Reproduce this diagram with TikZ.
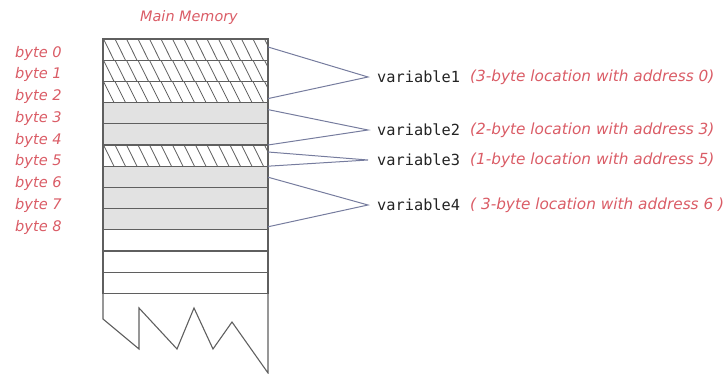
\documentclass[tikz,border=0pt]{standalone}
\usepackage{fontspec}
\setmainfont{DejaVu Sans}
\newfontfamily\codefont{DejaVu Sans Mono}
\usetikzlibrary{calc}
\definecolor{memred}{RGB}{218,92,102}
\definecolor{cellgray}{RGB}{226,226,226}
\definecolor{edgegray}{RGB}{95,95,95}
\definecolor{linkblue}{RGB}{118,124,158}
\definecolor{codeink}{RGB}{35,35,35}
\tikzset{
  cell/.style={draw=edgegray, line width=1.1pt, minimum width=165pt, minimum height=21.2pt,
               inner sep=0pt, outer sep=0pt, anchor=north west},
  graycell/.style={cell, fill=cellgray},
  bytelabel/.style={font=\itshape\fontsize{14.6}{14.6}\selectfont, text=memred, anchor=west, inner sep=0pt},
  varname/.style={font=\codefont\fontsize{15.3}{15.3}\selectfont, text=codeink, anchor=west, inner sep=0pt},
  vardesc/.style={font=\itshape\fontsize{15.3}{15.3}\selectfont, text=memred, anchor=west, inner sep=0pt},
  link/.style={draw=linkblue, line width=1pt},
  hatch/.style={draw=edgegray, line width=0.8pt}
}
\begin{document}
\begin{tikzpicture}[x=1pt,y=-1pt]
\useasboundingbox (0,0) rectangle (726,374);

% title
\node[font=\itshape\fontsize{14.4}{14.4}\selectfont, text=memred, inner sep=0pt] (title) at (189,18) {Main Memory};

% memory cells
\foreach \i in {0,...,11} {
  \pgfmathsetmacro{\yt}{39+21.2*\i}
  \node[cell] (r\i) at (103,\yt) {};
}
\foreach \i in {3,4,6,7,8} {
  \pgfmathsetmacro{\yt}{39+21.2*\i}
  \node[graycell] at (103,\yt) {};
}
% hatched cells
\foreach \i in {0,1,2,5} {
  \pgfmathsetmacro{\yt}{39+21.2*\i}
  \pgfmathsetmacro{\yb}{39+21.2*(\i+1)}
  \begin{scope}
    \clip (103,\yt) rectangle (268,\yb);
    \foreach \x in {92,103.5,...,280} {
      \draw[hatch] (\x,\yt) -- (\x+10.5,\yb);
    }
  \end{scope}
  \node[cell] at (103,\yt) {};
}

% torn bottom of the memory
\draw[edgegray, line width=1.1pt, line join=miter]
  (r11.south west) -- (103,319) -- (139,349) -- (139,308) -- (177,349)
  -- (194,308) -- (213,349) -- (232,322) -- (268,373) -- (r11.south east);

% byte labels
\foreach \i in {0,...,8} {
  \pgfmathsetmacro{\yl}{53+21.75*\i}
  \node[bytelabel] (b\i) at (15,\yl) {byte \i};
}

% variable labels
\node[varname] (v1) at (377,77) {variable1};
\node[varname] (v2) at (377,130) {variable2};
\node[varname] (v3) at (377,160) {variable3};
\node[varname] (v4) at (377,205) {variable4};
\node[vardesc] (d1) at (470,77) {(3-byte location with address 0)};
\node[vardesc] (d2) at (470,130) {(2-byte location with address 3)};
\node[vardesc] (d3) at (470,160) {(1-byte location with address 5)};
\node[vardesc] (d4) at (470,205) {( 3-byte location with address 6 )};

% connectors from memory to variable names
\coordinate (a1) at ($(v1.west)+(-9,0)$);
\coordinate (a2) at ($(v2.west)+(-9,0)$);
\coordinate (a3) at ($(v3.west)+(-9,0)$);
\coordinate (a4) at ($(v4.west)+(-9,0)$);
\draw[link] ($(r0.north east)+(0,8)$) -- (a1) -- ($(r2.south east)+(0,-4)$);
\draw[link] ($(r3.north east)+(0,7)$) -- (a2) -- ($(r4.south east)+(0,0)$);
\draw[link] ($(r5.north east)+(0,7)$) -- (a3) -- ($(r5.south east)+(0,0)$);
\draw[link] ($(r6.north east)+(0,11)$) -- (a4) -- ($(r8.south east)+(0,-3)$);
\end{tikzpicture}
\end{document}
